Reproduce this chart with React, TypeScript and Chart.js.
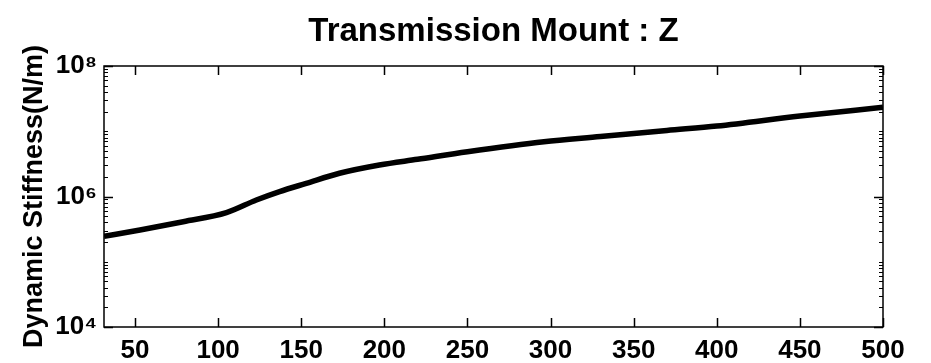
import React, { useEffect, useRef } from 'react';
import { Chart, registerables } from 'chart.js';

Chart.register(...registerables);

// Data
const frequencies = [31.4, 53, 79, 105, 123, 137, 153, 173, 197, 220, 250, 296, 330, 370, 400, 450, 500];
const stiffness = [2.45e5, 3.07e5, 4.11e5, 5.65e5, 8.84e5, 1.19e6, 1.59e6, 2.27e6, 3.04e6, 3.72e6, 4.86e6, 6.92e6, 8.3e6, 1.03e7, 1.2e7, 1.71e7, 2.33e7];

const xTickValues = [50, 100, 150, 200, 250, 300, 350, 400, 450, 500];
const yTickValues = [1e4, 1e6, 1e8];
const yTickLabels = ['10⁴', '10⁶', '10⁸'];

const chartTitle = 'Transmission Mount : Z';
const yAxisTitle = 'Dynamic Stiffness(N/m)';

const X_MIN = 31.35;
const X_MAX = 500;
const Y_MIN = 1e4;
const Y_MAX = 1e8;

const FONT = '"Liberation Sans", Arial, Helvetica, sans-serif';

const boxPlugin = {
  id: 'matlabBox',
  afterDatasetsDraw(chart: any) {
    const { ctx, chartArea: a, scales } = chart;
    const x = scales.x;
    const y = scales.y;
    ctx.save();
    ctx.strokeStyle = '#000';
    ctx.lineWidth = 1.5;
    ctx.strokeRect(a.left, a.top, a.right - a.left, a.bottom - a.top);
    const L = 9;
    ctx.beginPath();
    for (const v of xTickValues) {
      const px = Math.round(x.getPixelForValue(v)) + 0.5;
      ctx.moveTo(px, a.bottom);
      ctx.lineTo(px, a.bottom - L);
      ctx.moveTo(px, a.top);
      ctx.lineTo(px, a.top + L);
    }
    for (const v of yTickValues) {
      const py = Math.round(y.getPixelForValue(v)) + 0.5;
      ctx.moveTo(a.left, py);
      ctx.lineTo(a.left + L, py);
      ctx.moveTo(a.right, py);
      ctx.lineTo(a.right - L, py);
    }
    ctx.stroke();
    ctx.lineWidth = 1;
    ctx.beginPath();
    const m = 4;
    for (let k = 4; k < 8; k++) {
      for (let j = 1; j <= 9; j++) {
        const v = j * Math.pow(10, k);
        if (yTickValues.includes(v)) continue;
        const py = Math.round(y.getPixelForValue(v)) + 0.5;
        ctx.moveTo(a.left, py);
        ctx.lineTo(a.left + m, py);
        ctx.moveTo(a.right, py);
        ctx.lineTo(a.right - m, py);
      }
    }
    ctx.stroke();
    ctx.restore();
  },
};

export default function App() {
  const canvasRef = useRef<HTMLCanvasElement | null>(null);

  useEffect(() => {
    const canvas = canvasRef.current;
    if (!canvas) return;
    const chart = new Chart(canvas, {
      type: 'line',
      data: {
        datasets: [
          {
            data: frequencies.map((f, i) => ({ x: f, y: stiffness[i] })),
            borderColor: '#000',
            borderWidth: 5.5,
            pointRadius: 0,
            fill: false,
            cubicInterpolationMode: 'monotone',
          },
        ],
      },
      options: {
        responsive: false,
        animation: false,
        events: [],
        layout: { padding: { left: 0, right: 48, top: 0, bottom: 0 } },
        plugins: {
          legend: { display: false },
          tooltip: { enabled: false },
          title: {
            display: true,
            text: chartTitle,
            color: '#000',
            fullSize: false,
            font: { family: FONT, size: 33, weight: 'bold', lineHeight: 1.2 },
            padding: { top: 12, bottom: 14.4 },
          },
        },
        scales: {
          x: {
            type: 'linear',
            min: X_MIN,
            max: X_MAX,
            grid: { display: false, drawTicks: false },
            border: { display: false },
            afterBuildTicks: (scale: any) => {
              scale.ticks = xTickValues.map((v) => ({ value: v }));
            },
            afterFit: (scale: any) => {
              scale.height = 36;
            },
            ticks: {
              color: '#000',
              padding: 8,
              maxRotation: 0,
              autoSkip: false,
              font: { family: FONT, size: 26, weight: 'bold' },
              callback: (v: any) => String(v),
            },
          },
          y: {
            type: 'logarithmic',
            min: Y_MIN,
            max: Y_MAX,
            grid: { display: false, drawTicks: false },
            border: { display: false },
            afterBuildTicks: (scale: any) => {
              scale.ticks = yTickValues.map((v) => ({ value: v }));
            },
            afterFit: (scale: any) => {
              scale.width = 104;
            },
            ticks: {
              color: '#000',
              padding: 7,
              autoSkip: false,
              font: { family: FONT, size: 26, weight: 'bold' },
              callback: (v: any) => {
                const i = yTickValues.indexOf(Number(v));
                return i >= 0 ? yTickLabels[i] : '';
              },
            },
            title: {
              display: true,
              text: yAxisTitle,
              color: '#000',
              font: { family: FONT, size: 27, weight: 'bold', lineHeight: 1.2 },
              padding: { top: 18, bottom: 0 },
            },
          },
        },
      },
      plugins: [boxPlugin],
    } as any);
    return () => chart.destroy();
  }, []);

  return (
    <div style={{ position: 'fixed', left: 0, top: 0, width: 931, height: 363, background: '#fff' }}>
      <canvas ref={canvasRef} width={931} height={363} />
    </div>
  );
}
